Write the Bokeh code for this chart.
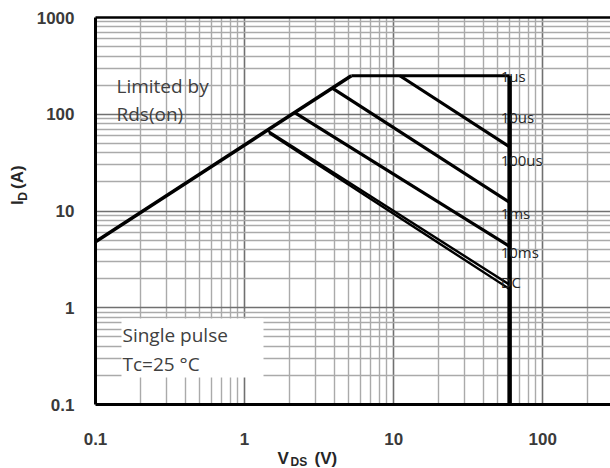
import math
from bokeh.plotting import figure
from bokeh.layouts import row, column
from bokeh.models import (LogAxis, FixedTicker, CustomJSTickFormatter, Label,
                          BoxAnnotation, ColumnDataSource, Range1d)
from bokeh.core.properties import value
from bokeh.embed import file_html
from bokeh.resources import INLINE

# ---- data ----
X_TICKS = [0.1, 1, 10, 100, 1000]
Y_TICKS = [0.1, 1, 10, 100, 1000]
X_MIN, X_MAX = 0.1, 285
Y_MIN, Y_MAX = 0.1, 1000

# Rds(on) limit
RDS_V = [0.1, 5.2]
RDS_I = [4.8, 250]
# drain-source voltage limit
VLIM_V = [60, 60]
VLIM_I = [250, 0.1]
# pulse curves
V_1US = [5.2, 60]
I_1US = [250, 250]
V_10US = [11, 60]
I_10US = [250, 46]
V_100US = [3.9, 60]
I_100US = [185, 12.3]
V_1MS = [2.17, 60]
I_1MS = [104, 4.3]
V_10MS = [1.42, 60]
I_10MS = [68, 1.73]
V_DC = [1.46, 60]
I_DC = [64, 1.56]

LABEL_TEXT = ["1us", "10us", "100us", "1ms", "10ms", "DC"]
LABEL_V = [60, 60, 60, 60, 60, 60]
LABEL_I = [250, 93, 34, 9.5, 3.8, 1.85]

X_TITLE = ["V", "DS", "(V)"]
Y_TITLE = ["I", "D", "(A)"]

X_MINOR = [m * t for t in X_TICKS[:-1] for m in range(2, 10)]
Y_MINOR = [m * t for t in Y_TICKS[:-1] for m in range(2, 10)]

AX_FONT = "Liberation Sans"
TITLE_COLOR = "#262626"

MAIN_H = 448
LEFT_W = 32

# ---- main plot ----
p = figure(width=610 - LEFT_W, height=MAIN_H, x_axis_type="log", y_axis_type="log",
           x_range=Range1d(X_MIN, X_MAX), y_range=Range1d(Y_MIN, Y_MAX),
           output_backend="svg", toolbar_location=None,
           min_border_left=95 - LEFT_W, min_border_right=0, min_border_top=17,
           min_border_bottom=MAIN_H - 404)
p.outline_line_color = None
p.background_fill_color = "white"
p.border_fill_color = "white"

fmt = CustomJSTickFormatter(code="return String(tick);")
for ax, ticks, minor in ((p.xaxis[0], X_TICKS, X_MINOR), (p.yaxis[0], Y_TICKS, Y_MINOR)):
    ax.ticker = FixedTicker(ticks=ticks, minor_ticks=minor)
    ax.formatter = fmt
    ax.major_tick_in = 0
    ax.major_tick_out = 0
    ax.minor_tick_in = 0
    ax.minor_tick_out = 0
    ax.axis_line_color = "black"
    ax.axis_line_width = 3
    ax.major_label_text_font = AX_FONT
    ax.major_label_text_font_style = "bold"
    ax.major_label_text_font_size = "17px"
    ax.major_label_text_color = "#3a3a3a"
p.xaxis[0].major_label_standoff = 28
p.yaxis[0].major_label_standoff = 21

top = LogAxis(ticker=FixedTicker(ticks=[]), axis_line_width=2.5,
              axis_line_color="black", major_tick_out=0, major_tick_in=0,
              minor_tick_out=0, minor_tick_in=0,
              major_label_text_font_size="0px")
p.add_layout(top, "above")

for g in (p.xgrid[0], p.ygrid[0]):
    g.grid_line_color = "#707070"
    g.grid_line_width = 1.6
    g.minor_grid_line_color = "#aaaaaa"
    g.minor_grid_line_width = 1.4

# curves
p.line(RDS_V, RDS_I, line_color="black", line_width=3.5)
p.line(V_1US, I_1US, line_color="black", line_width=3.2)
p.line(V_10US, I_10US, line_color="black", line_width=3.2)
p.line(V_100US, I_100US, line_color="black", line_width=3.2)
p.line(V_1MS, I_1MS, line_color="black", line_width=3.2)
p.line(V_10MS, I_10MS, line_color="black", line_width=2.4)
p.line(V_DC, I_DC, line_color="black", line_width=2.4)
p.line(VLIM_V, VLIM_I, line_color="black", line_width=4.5)

src = ColumnDataSource(dict(x=LABEL_V, y=LABEL_I, t=LABEL_TEXT))
p.text(x="x", y="y", text="t", source=src, x_offset=-9,
       text_align="left", text_baseline="middle",
       text_font=value("Open Sans"), text_font_size="15px",
       text_color="#262626")

# annotation texts
def note(x, y, text):
    p.add_layout(Label(x=x, y=y, x_units="screen", y_units="screen",
                       text=text, text_font="Open Sans", text_font_size="19px",
                       text_color="#404040", text_baseline="middle"))

note(21, 319, "Limited by")
note(21, 291, "Rds(on)")
p.add_layout(BoxAnnotation(left=26, right=168, top=86, bottom=27,
                           left_units="screen", right_units="screen",
                           top_units="screen", bottom_units="screen",
                           fill_color="white", fill_alpha=1.0, line_color=None))
note(27, 70, "Single pulse")
note(27, 41, "Tc=25 °C")

# ---- axis title strips ----
def strip(w, h):
    s = figure(width=w, height=h, x_range=Range1d(0, w), y_range=Range1d(0, h),
               output_backend="svg", toolbar_location=None,
               x_axis_location=None, y_axis_location=None,
               min_border=0, min_border_left=0, min_border_right=0,
               min_border_top=0, min_border_bottom=0)
    s.outline_line_color = None
    s.background_fill_color = "white"
    s.border_fill_color = "white"
    for g in s.grid:
        g.visible = False
    return s

left = strip(LEFT_W, MAIN_H)
bottom = strip(610, 468 - MAIN_H)

# y title: reads bottom-to-top, subscript shifted to the right
ysrc = ColumnDataSource(dict(x=[17, 22, 17], y=[231, 236, 249.5], t=Y_TITLE,
                             s=["17px", "12px", "17px"]))
left.text(x="x", y="y", text="t", source=ysrc, angle=math.pi / 2,
          text_font=value(AX_FONT), text_font_style="bold",
          text_font_size="s", text_color=TITLE_COLOR,
          text_align="left", text_baseline="middle")

xsrc = ColumnDataSource(dict(x=[277, 290, 314], y=[10, 7, 10], t=X_TITLE,
                             s=["17px", "12px", "17px"]))
bottom.text(x="x", y="y", text="t", source=xsrc,
            text_font=value(AX_FONT), text_font_style="bold",
            text_font_size="s", text_color=TITLE_COLOR,
            text_align="left", text_baseline="middle")

layout = column(row(left, p, spacing=0), bottom, spacing=0)
open("out.html", "w").write(file_html(layout, INLINE))
